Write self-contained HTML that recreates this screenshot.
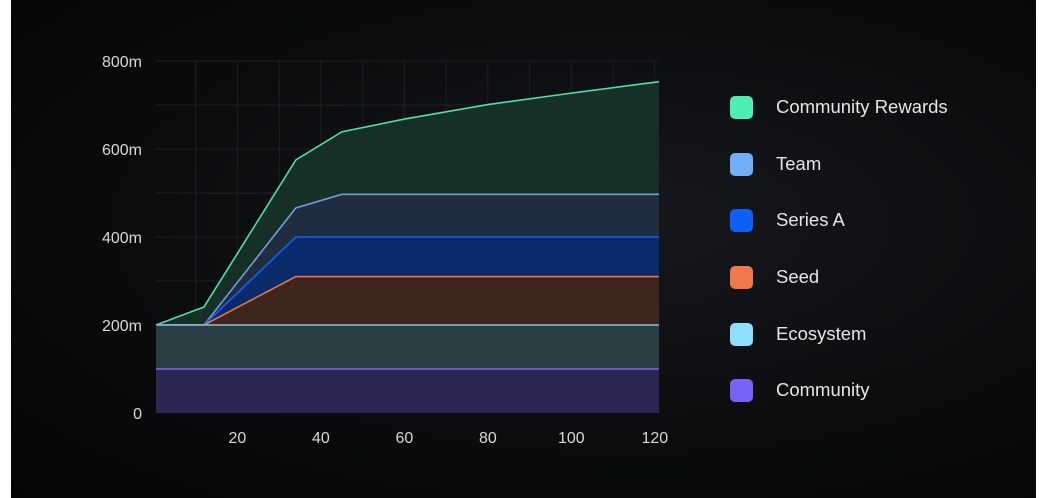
<!DOCTYPE html>
<html><head><meta charset="utf-8">
<style>
html,body{margin:0;padding:0;background:#fff;}
#frame{position:absolute;left:11px;top:0;width:1025px;height:498px;background:radial-gradient(ellipse at 60% 45%,#16181c 0%,#0b0c0e 55%,#050506 100%);overflow:hidden;font-family:"Liberation Sans",sans-serif;}
svg text{font-family:"Liberation Sans",sans-serif;}
.leg{position:absolute;left:719px;height:24px;display:flex;align-items:center;color:#e6e6e6;font-size:18.5px;}
.sw{width:23px;height:23px;border-radius:5px;margin-right:23px;}
</style></head><body>
<div id="frame">
<svg id="chart" width="1025" height="498" style="position:absolute;left:0;top:0"></svg>
<div class="leg" style="top:95px"><div class="sw" style="background:#4cf0b4"></div>Community Rewards</div>
<div class="leg" style="top:152px"><div class="sw" style="background:#74aef8"></div>Team</div>
<div class="leg" style="top:208px"><div class="sw" style="background:#0d5ff7"></div>Series A</div>
<div class="leg" style="top:265px"><div class="sw" style="background:#f0784a"></div>Seed</div>
<div class="leg" style="top:322px"><div class="sw" style="background:#8ddffa"></div>Ecosystem</div>
<div class="leg" style="top:378px"><div class="sw" style="background:#7763f5"></div>Community</div>
</div>
<script>
const months = [0.5, 12, 34, 45, 60, 80, 100, 121];
const community = [100, 100, 100, 100, 100, 100, 100, 100];
const ecosystem = [200, 200, 200, 200, 200, 200, 200, 200];
const seed = [200, 200, 310, 310, 310, 310, 310, 310];
const seriesA = [200, 200, 400, 400, 400, 400, 400, 400];
const team = [200, 200, 466, 497, 497, 497, 497, 497];
const communityRewards = [200, 241, 575, 639, 668, 701, 727, 753];
const xTicks = [20, 40, 60, 80, 100, 120];
const yTicks = [0, 200, 400, 600, 800];
const yTickLabels = ["0", "200m", "400m", "600m", "800m"];

const NS = "http://www.w3.org/2000/svg";
const svg = document.getElementById("chart");
const X0 = 145, X1 = 648, Y0 = 413, Y1 = 61;
const xs = v => X0 + (v - 0.5) / 120.5 * (X1 - X0);
const ys = v => Y0 - v / 800 * (Y0 - Y1);
function mk(tag, attrs){const e=document.createElementNS(NS,tag);for(const k in attrs)e.setAttribute(k,attrs[k]);svg.appendChild(e);return e;}

for (let g = 10; g <= 120; g += 10) {
  const l = mk("line",{x1:xs(g),x2:xs(g),y1:Y1,y2:Y0,stroke:"#1e2024","stroke-width":1});
  
  
}
for (let g = 100; g <= 800; g += 100) {
  const l = mk("line",{x1:X0,x2:X1,y1:ys(g),y2:ys(g),stroke:"#1e2024","stroke-width":1});
  
  
}

const series = [
  {name:"community-rewards", top:communityRewards, base:team, fill:"#163028", line:"#4ee0a4"},
  {name:"team", top:team, base:seriesA, fill:"#202d40", line:"#6f9fd8"},
  {name:"series-a", top:seriesA, base:seed, fill:"#0b2a6c", line:"#1a5ef0"},
  {name:"seed", top:seed, base:ecosystem, fill:"#3e261f", line:"#e5764e"},
  {name:"ecosystem", top:ecosystem, base:community, fill:"#2b3d44", line:"#86c3d6"},
  {name:"community", top:community, base:months.map(()=>0), fill:"#2b2654", line:"#7a68f0"}
];
series.forEach(s => {
  let d = "M" + months.map((m,i)=>xs(m)+","+ys(s.top[i])).join("L");
  for (let i = months.length-1; i >= 0; i--) d += "L" + xs(months[i]) + "," + ys(s.base[i]);
  const a = mk("path",{d:d+"Z",fill:s.fill});
  
  
  const ln = mk("polyline",{points:months.map((m,i)=>xs(m)+","+ys(s.top[i])).join(" "),fill:"none",stroke:s.line,"stroke-width":1.6});
  
  
});

yTicks.forEach((t,i) => {
  const tx = mk("text",{x:131,y:ys(t)+6,"text-anchor":"end",fill:"#d8d8d8","font-size":16});
  tx.textContent = yTickLabels[i];
  
  
});
xTicks.forEach(t => {
  const tx = mk("text",{x:xs(t),y:443,"text-anchor":"middle",fill:"#d8d8d8","font-size":16});
  tx.textContent = t;
  
  
});
</script>
</body></html>
